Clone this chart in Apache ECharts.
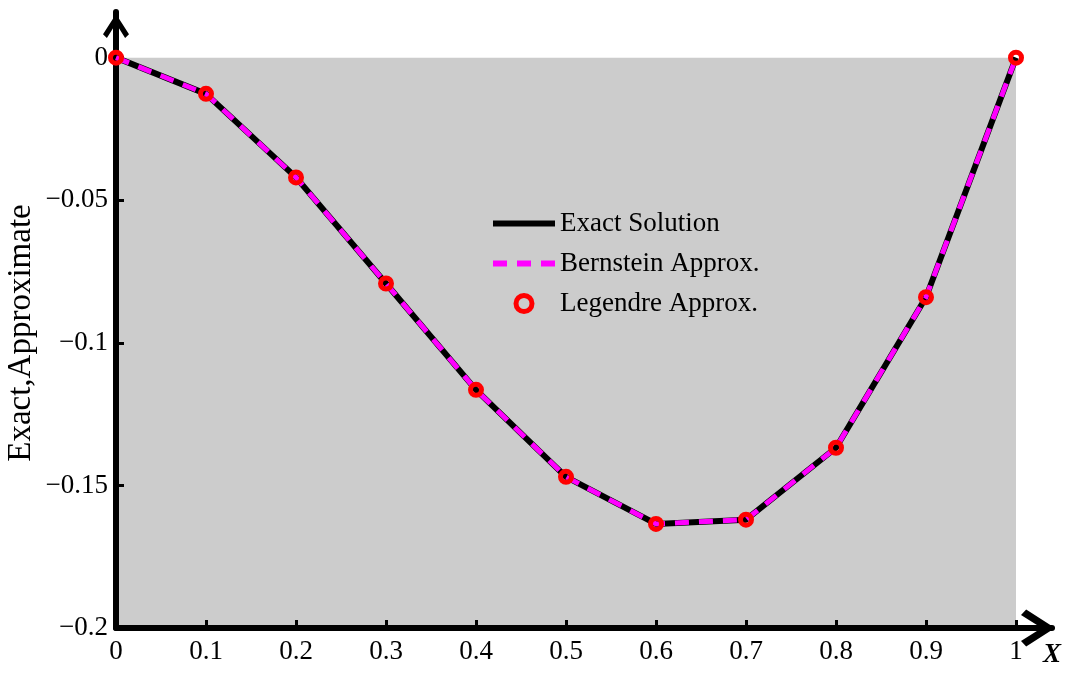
<!DOCTYPE html>
<html>
<head>
<meta charset="utf-8">
<script src="https://cdn.jsdelivr.net/npm/echarts@6/dist/echarts.min.js"></script>
<style>
  html, body { margin: 0; padding: 0; background: #ffffff; }
  #chart { width: 1070px; height: 673px; }
</style>
</head>
<body>
<div id="chart"></div>
<script>
// Sample points x = 0 .. 1
const xValues = [0, 0.1, 0.2, 0.3, 0.4, 0.5, 0.6, 0.7, 0.8, 0.9, 1];
// Exact solution
const exactValues = [0, -0.0127, -0.0420, -0.0792, -0.1165, -0.1470, -0.1635, -0.1620, -0.1368, -0.0840, 0];
// Bernstein approximation
const bernsteinValues = [0, -0.0127, -0.0420, -0.0792, -0.1165, -0.1470, -0.1635, -0.1620, -0.1368, -0.0840, 0];
// Legendre approximation
const legendreValues = [0, -0.0127, -0.0420, -0.0792, -0.1165, -0.1470, -0.1635, -0.1620, -0.1368, -0.0840, 0];

// Tick positions and labels
const xTicks = [0, 0.1, 0.2, 0.3, 0.4, 0.5, 0.6, 0.7, 0.8, 0.9, 1];
const xTickLabels = ['0', '0.1', '0.2', '0.3', '0.4', '0.5', '0.6', '0.7', '0.8', '0.9', '1'];
const yTicks = [-0.2, -0.15, -0.1, -0.05, 0];
const yTickLabels = ['\u22120.2', '\u22120.15', '\u22120.1', '\u22120.05', '0'];

const seriesNames = ['Exact Solution', 'Bernstein Approx.', 'Legendre Approx.'];

const pairs = (ys) => xValues.map((x, i) => [x, ys[i]]);

const FONT = '"Liberation Serif", "Times New Roman", serif';
// open chevron arrow head, pointing up in its own box
const ARROW = 'path://M50 0 L100 78 L85 92 L50 36 L15 92 L0 78 Z';
// legend line icons carry no marker
const NO_MARKER = { color: 'rgba(0,0,0,0)', borderWidth: 0, opacity: 0 };

const chart = echarts.init(document.getElementById('chart'), null, { renderer: 'canvas' });

chart.setOption({
  backgroundColor: '#ffffff',
  animation: false,
  grid: { left: 116, right: 18, top: 12, bottom: 45, containLabel: false, outerBoundsMode: 'none' },
  xAxis: {
    type: 'value',
    min: 0,
    max: 1.04,
    z: 3,
    name: 'X',
    nameLocation: 'end',
    nameGap: 0,
    nameMoveOverlap: false,
    nameTextStyle: {
      fontFamily: FONT, fontSize: 27, fontStyle: 'italic', fontWeight: 'bold',
      color: '#000', align: 'center', verticalAlign: 'top', padding: [14, 0, 0, 0]
    },
    splitLine: { show: false },
    axisLine: {
      onZero: false,
      lineStyle: { color: '#000', width: 6 },
      symbol: ['none', ARROW],
      symbolSize: [40, 34],
      symbolOffset: [0, -14]
    },
    axisTick: { inside: true, length: 8, customValues: xTicks, lineStyle: { color: '#000', width: 3 } },
    axisLabel: {
      customValues: xTicks,
      margin: 10,
      fontFamily: FONT, fontSize: 27, color: '#000',
      formatter: (v) => xTickLabels[xTicks.findIndex(t => Math.abs(t - v) < 1e-9)] ?? ''
    }
  },
  yAxis: {
    type: 'value',
    min: -0.2,
    max: 0.016,
    z: 3,
    name: 'Exact,Approximate',
    nameLocation: 'middle',
    nameRotate: 90,
    nameGap: 78,
    nameMoveOverlap: false,
    nameTextStyle: { fontFamily: FONT, fontSize: 33, color: '#000', padding: [0, 26, 0, 0] },
    splitLine: { show: false },
    axisLine: {
      onZero: false,
      lineStyle: { color: '#000', width: 6 },
      symbol: ['none', ARROW],
      symbolSize: [26, 40],
      symbolOffset: [0, -14]
    },
    axisTick: { inside: true, length: 8, customValues: yTicks, lineStyle: { color: '#000', width: 3 } },
    axisLabel: {
      customValues: yTicks,
      margin: 8,
      fontFamily: FONT, fontSize: 27, color: '#000',
      formatter: (v) => yTickLabels[yTicks.findIndex(t => Math.abs(t - v) < 1e-9)] ?? ''
    }
  },
  legend: {
    orient: 'vertical',
    left: 485,
    top: 205,
    itemWidth: 62,
    itemHeight: 16,
    itemGap: 13,
    textStyle: { fontFamily: FONT, fontSize: 27, color: '#000' },
    data: [
      { name: seriesNames[0], lineStyle: { width: 6 }, itemStyle: NO_MARKER },
      { name: seriesNames[1], lineStyle: { width: 6 }, itemStyle: NO_MARKER },
      { name: seriesNames[2], itemStyle: { borderWidth: 5 } }
    ]
  },
  series: [
    {
      name: seriesNames[0],
      type: 'line',
      data: pairs(exactValues),
      symbol: 'none',
      z: 2,
      lineStyle: { color: '#000000', width: 6 },
      itemStyle: { color: '#000000' },
      markArea: {
        silent: true,
        itemStyle: { color: '#cccccc' },
        data: [[{ coord: [0, -0.2] }, { coord: [1, 0] }]]
      }
    },
    {
      name: seriesNames[1],
      type: 'line',
      data: pairs(bernsteinValues),
      symbol: 'none',
      z: 4,
      lineStyle: { color: '#ff00ff', width: 5, type: [14, 10] },
      itemStyle: { color: '#ff00ff' }
    },
    {
      name: seriesNames[2],
      type: 'scatter',
      data: pairs(legendreValues),
      symbol: 'circle',
      symbolSize: 11,
      z: 10,
      itemStyle: { color: 'rgba(0,0,0,0)', borderColor: '#ff0000', borderWidth: 5, opacity: 1 }
    }
  ]
});
</script>
</body>
</html>
